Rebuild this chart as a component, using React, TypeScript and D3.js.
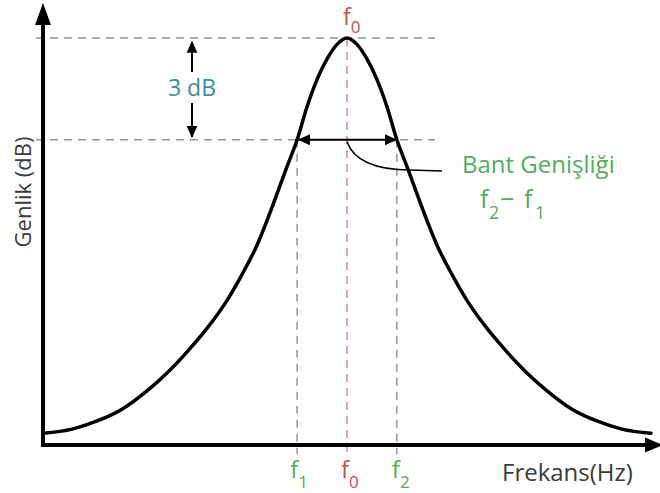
import React from "react";
import * as d3 from "d3";

const freq = [0, 4.8, 8.9, 13.0, 17.1, 20.4, 23.7, 27.0, 30.3, 32.7, 35.2, 37.7, 40.1, 41.8, 43.4, 45.1, 46.7, 48.4, 50, 51.6, 53.3, 54.9, 56.6, 58.2, 59.9, 62.3, 64.8, 67.3, 69.7, 73.0, 76.3, 79.6, 82.9, 87.0, 91.1, 95.2, 100];
const gain = [2.9, 3.9, 5.9, 8.8, 13.3, 17.7, 22.9, 28.7, 35.6, 41.8, 49.1, 58.5, 68.3, 75, 83.0, 89.9, 94.8, 98.5, 100, 98.5, 94.8, 89.9, 83.0, 75, 68.3, 58.5, 49.1, 41.8, 35.6, 28.7, 22.9, 17.7, 13.3, 8.8, 5.9, 3.9, 2.9];

const f0 = 50;
const f1 = 41.8;
const f2 = 58.2;
const peakGain = 100;
const cutoffGain = 75;

const W = 660;
const H = 493;
const FONT = "'Open Sans', 'Noto Sans', sans-serif";
const GREEN = "#52ad5c";
const RED = "#c9504c";
const TEAL = "#3a8fa3";
const GRAY = "#8d9896";
const DARK = "#3b3b3b";

export default function App() {
  const x = d3.scaleLinear().domain([0, 100]).range([43, 651]);
  const y = d3.scaleLinear().domain([0, 100]).range([445, 38]);

  const pts: [number, number][] = freq.map((f, i) => [f, gain[i]]);
  const line = d3
    .line<[number, number]>()
    .x((d) => x(d[0]))
    .y((d) => y(d[1]))
    .curve(d3.curveMonotoneX);

  const xAxisY = y(0);
  const yAxisX = x(0);
  const yPeak = y(peakGain);
  const yCut = y(cutoffGain);
  const xf0 = x(f0);
  const xf1 = x(f1);
  const xf2 = x(f2);
  const dbX = 192;

  return (
    <svg width={W} height={H} style={{ display: "block", position: "absolute", left: 0, top: 0 }} fontFamily={FONT}>
      <defs>
        <marker id="ahs" viewBox="0 0 10 10" refX="9" refY="5" markerWidth="14" markerHeight="12" orient="auto-start-reverse" markerUnits="userSpaceOnUse">
          <path d="M0,0.5 L10,5 L0,9.5 z" fill="#000" />
        </marker>
      </defs>
      <rect x={0} y={0} width={W} height={H} fill="#fff" />

      {/* dashed reference lines */}
      <line x1={36} x2={435} y1={yPeak} y2={yPeak} stroke={GRAY} strokeWidth={1.5} strokeDasharray="8 6" />
      <line x1={36} x2={435} y1={yCut} y2={yCut} stroke={GRAY} strokeWidth={1.5} strokeDasharray="8 6" />
      <line x1={xf1} x2={xf1} y1={yCut} y2={xAxisY + 9} stroke={GRAY} strokeWidth={1.5} strokeDasharray="8 6" />
      <line x1={xf2} x2={xf2} y1={yCut} y2={xAxisY + 9} stroke={GRAY} strokeWidth={1.5} strokeDasharray="8 6" />
      <line x1={xf0} x2={xf0} y1={yPeak} y2={xAxisY + 9} stroke="#d98c86" strokeWidth={1.5} strokeDasharray="8 6" />

      {/* curve */}
      <path d={line(pts) || ""} fill="none" stroke="#000" strokeWidth={3.5} strokeLinecap="round" />

      {/* axes */}
      <line x1={yAxisX} x2={yAxisX} y1={xAxisY + 2} y2={8} stroke="#000" strokeWidth={4} />
      <path d={`M${yAxisX},3 L${yAxisX - 8},25 L${yAxisX + 8},25 Z`} fill="#000" />
      <line x1={yAxisX - 2} x2={650} y1={xAxisY} y2={xAxisY} stroke="#000" strokeWidth={4} />
      <path d={`M663,${xAxisY} L645,${xAxisY - 7.5} L645,${xAxisY + 7.5} Z`} fill="#000" />

      {/* 3 dB arrows */}
      <line x1={dbX} x2={dbX} y1={72} y2={yPeak + 4} stroke="#000" strokeWidth={2} markerEnd="url(#ahs)" />
      <line x1={dbX} x2={dbX} y1={103} y2={yCut - 3} stroke="#000" strokeWidth={2} markerEnd="url(#ahs)" />
      <text x={dbX} y={96} fill={TEAL} fontSize={23} textAnchor="middle">3 dB</text>

      {/* bandwidth arrow */}
      <line x1={xf1 + 2} x2={xf2 - 1} y1={yCut} y2={yCut} stroke="#000" strokeWidth={2} markerStart="url(#ahs)" markerEnd="url(#ahs)" />
      <path d={`M${xf0},${yCut + 2} Q${xf0 + 10},${yCut + 30} 410,170 L442,171`} fill="none" stroke="#000" strokeWidth={1.6} />

      {/* labels */}
      <text x={343} y={25} fill={RED} fontSize={23}>
        f<tspan fontSize={17} dy={8}>0</tspan>
      </text>

      <text x={462} y={173} fill={GREEN} fontSize={24}>Bant Genişliği</text>
      <text y={208} fill={GREEN} fontSize={25}>
        <tspan x={480}>f</tspan>
        <tspan x={489} fontSize={18} dy={11}>2</tspan>
        <tspan x={500} fontSize={25} dy={-11}>−</tspan>
        <tspan x={524}>f</tspan>
        <tspan x={535} fontSize={18} dy={11}>1</tspan>
      </text>

      <text x={xf1 - 7} y={478} fill={GREEN} fontSize={24}>
        f<tspan fontSize={17} dy={10}>1</tspan>
      </text>
      <text x={xf0 - 6} y={478} fill={RED} fontSize={24}>
        f<tspan fontSize={17} dy={10}>0</tspan>
      </text>
      <text x={xf2 - 5} y={478} fill={GREEN} fontSize={24}>
        f<tspan fontSize={17} dy={10}>2</tspan>
      </text>

      <text x={502} y={481} fill={DARK} fontSize={24}>Frekans(Hz)</text>
      <text transform="translate(31,192) rotate(-90)" fill={DARK} fontSize={22} textAnchor="middle">Genlik (dB)</text>
    </svg>
  );
}
